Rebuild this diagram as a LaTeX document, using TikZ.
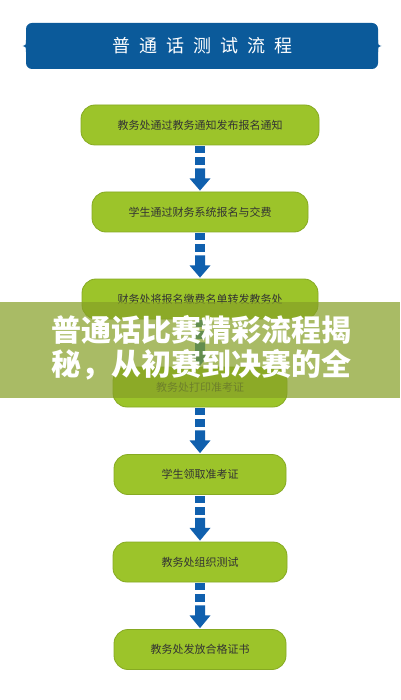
\documentclass[tikz,border=0pt]{standalone}
\usepackage{fontspec}
\newfontfamily\cjk{Noto Sans CJK SC}
\usetikzlibrary{calc}
\definecolor{titleblue}{HTML}{0B5A9A}
\definecolor{boxgreen}{HTML}{9CC42A}
\definecolor{boxedge}{HTML}{86AA22}
\definecolor{arrowblue}{HTML}{1060AE}
\definecolor{bannergreen}{RGB}{134,160,39}
\newcommand\flowarr[2]{%
  \fill[arrowblue] ($(#1.south)+(-5,1)$) rectangle ($(#1.south)+(5,8)$);
  \fill[arrowblue] ($(#1.south)+(-5,12)$) rectangle ($(#1.south)+(5,20)$);
  \fill[arrowblue] ($(#1.south)+(-5,23)$) -- ($(#1.south)+(5,23)$) -- ($(#1.south)+(5,33)$) -- ($(#1.south)+(10.5,33)$) -- ($(#2.north)+(0,-1)$) -- ($(#1.south)+(-10.5,33)$) -- ($(#1.south)+(-5,33)$) -- cycle;}
\begin{document}
\begin{tikzpicture}[x=1pt,y=-1pt,
  stepbox/.style={draw=boxedge, line width=0.8pt, fill=boxgreen, rounded corners=14pt,
    minimum height=40pt, inner sep=0pt, font=\cjk\fontsize{11}{13}\selectfont, text=black!80}]
\useasboundingbox (0,0) rectangle (400,700);
\fill[white] (0,0) rectangle (400,700);
% title
\fill[titleblue] (26,40) .. controls (26,45) .. (22.5,46) .. controls (26,47) .. (26,52) -- cycle;
\fill[titleblue] (378,40) .. controls (378,45) .. (381.5,46) .. controls (378,47) .. (378,52) -- cycle;
\node[fill=titleblue, rounded corners=6pt, minimum width=352pt, minimum height=46pt, inner sep=0pt,
  text=white, font=\cjk\fontsize{18}{20}\selectfont] (title) at (202,46)
  {普\hspace{9pt}通\hspace{9pt}话\hspace{9pt}测\hspace{9pt}试\hspace{9pt}流\hspace{9pt}程};
% steps
\node[stepbox, minimum width=238pt] (s1) at (200,125) {教务处通过教务通知发布报名通知};
\node[stepbox, minimum width=216pt] (s2) at (200,212) {学生通过财务系统报名与交费};
\node[stepbox, minimum width=236pt] (s3) at (200,299) {财务处将报名缴费名单转发教务处};
\node[stepbox, minimum width=174pt] (s4) at (200,387) {教务处打印准考证};
\node[stepbox, minimum width=172pt] (s5) at (200,474.5) {学生领取准考证};
\node[stepbox, minimum width=174pt] (s6) at (200,562) {教务处组织测试};
\node[stepbox, minimum width=172pt] (s7) at (200,649.5) {教务处发放合格证书};
\flowarr{s1}{s2}
\flowarr{s2}{s3}
\flowarr{s3}{s4}
\flowarr{s4}{s5}
\flowarr{s5}{s6}
\flowarr{s6}{s7}
% banner
\fill[bannergreen, opacity=0.71] (0,302) rectangle (400,398);
\node[text=white, inner sep=0pt, font=\cjk\bfseries\fontsize{30}{35}\selectfont] (b1) at (201,330) {普通话比赛精彩流程揭};
\node[text=white, inner sep=0pt, font=\cjk\bfseries\fontsize{30}{35}\selectfont] (b2) at (201,365) {秘，从初赛到决赛的全};
\end{tikzpicture}
\end{document}
